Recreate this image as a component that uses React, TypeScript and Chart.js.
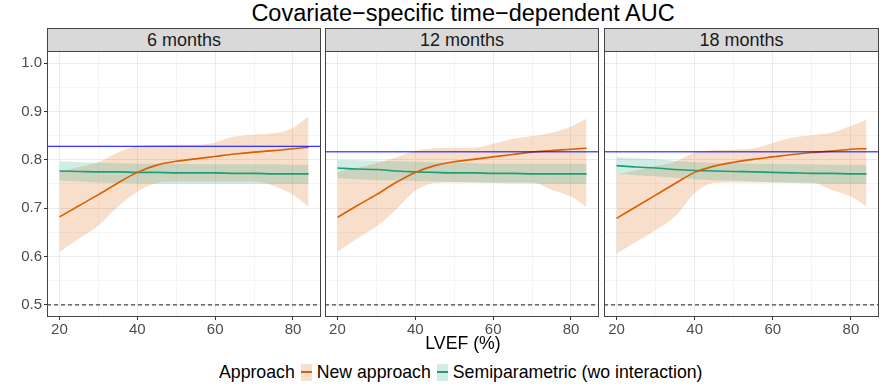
import React, { useEffect, useRef } from "react";
import { Chart, registerables } from "chart.js";
Chart.register(...registerables);

// ---------- data ----------
const TITLE = "Covariate\u2212specific time\u2212dependent AUC";
const X_TITLE = "LVEF (%)";
const LEGEND_TITLE = "Approach";
const SERIES_NAMES = ["New approach", "Semiparametric (wo interaction)"];
const PANELS = ["6 months", "12 months", "18 months"];

const LVEF = [20, 25, 30, 35, 40, 45, 50, 55, 60, 65, 70, 75, 80, 84];

// 6 months
const NEW_6 = [0.682, 0.705, 0.728, 0.752, 0.774, 0.789, 0.797, 0.802, 0.807, 0.812, 0.816, 0.819, 0.823, 0.826];
const NEW_6_LO = [0.61, 0.637, 0.664, 0.703, 0.734, 0.752, 0.755, 0.755, 0.755, 0.755, 0.755, 0.746, 0.728, 0.703];
const NEW_6_HI = [0.775, 0.785, 0.795, 0.815, 0.828, 0.83, 0.831, 0.831, 0.836, 0.848, 0.852, 0.855, 0.866, 0.89];
const SEMI_6 = [0.777, 0.776, 0.775, 0.775, 0.774, 0.774, 0.773, 0.773, 0.773, 0.772, 0.772, 0.771, 0.771, 0.771];
const SEMI_6_LO = [0.757, 0.755, 0.753, 0.752, 0.751, 0.75, 0.75, 0.75, 0.75, 0.75, 0.75, 0.75, 0.75, 0.75];
const SEMI_6_HI = [0.797, 0.795, 0.794, 0.793, 0.792, 0.792, 0.792, 0.791, 0.791, 0.791, 0.791, 0.791, 0.79, 0.79];

// 12 months
const NEW_12 = [0.681, 0.705, 0.728, 0.753, 0.774, 0.788, 0.796, 0.801, 0.806, 0.811, 0.816, 0.819, 0.822, 0.824];
const NEW_12_LO = [0.61, 0.637, 0.662, 0.697, 0.736, 0.752, 0.753, 0.753, 0.753, 0.753, 0.753, 0.738, 0.724, 0.702];
const NEW_12_HI = [0.775, 0.783, 0.793, 0.805, 0.818, 0.824, 0.825, 0.825, 0.833, 0.843, 0.849, 0.856, 0.869, 0.885];
const SEMI_12 = [0.783, 0.781, 0.78, 0.777, 0.775, 0.774, 0.773, 0.773, 0.772, 0.772, 0.771, 0.771, 0.771, 0.771];
const SEMI_12_LO = [0.762, 0.76, 0.758, 0.757, 0.756, 0.755, 0.754, 0.753, 0.752, 0.751, 0.751, 0.75, 0.75, 0.75];
const SEMI_12_HI = [0.8, 0.799, 0.798, 0.797, 0.796, 0.795, 0.794, 0.793, 0.792, 0.792, 0.792, 0.792, 0.792, 0.792];

// 18 months
const NEW_18 = [0.679, 0.703, 0.727, 0.751, 0.774, 0.787, 0.795, 0.801, 0.806, 0.811, 0.815, 0.818, 0.822, 0.823];
const NEW_18_LO = [0.606, 0.63, 0.655, 0.683, 0.731, 0.752, 0.753, 0.753, 0.753, 0.753, 0.753, 0.738, 0.724, 0.703];
const NEW_18_HI = [0.77, 0.778, 0.787, 0.796, 0.815, 0.82, 0.821, 0.824, 0.835, 0.846, 0.851, 0.856, 0.87, 0.883];
const SEMI_18 = [0.788, 0.785, 0.783, 0.78, 0.778, 0.777, 0.776, 0.775, 0.774, 0.773, 0.772, 0.772, 0.771, 0.771];
const SEMI_18_LO = [0.771, 0.768, 0.766, 0.763, 0.76, 0.758, 0.757, 0.755, 0.753, 0.752, 0.751, 0.75, 0.75, 0.75];
const SEMI_18_HI = [0.806, 0.803, 0.801, 0.798, 0.795, 0.794, 0.793, 0.792, 0.792, 0.791, 0.791, 0.79, 0.79, 0.79];

const REF_AUC = [0.828, 0.8165, 0.8165];
const NULL_AUC = 0.5;

const X_MAJOR = [20, 40, 60, 80];
const X_MINOR = [30, 50, 70];
const Y_MAJOR = [0.5, 0.6, 0.7, 0.8, 0.9, 1.0];
const Y_MINOR = [0.55, 0.65, 0.75, 0.85, 0.95];
const X_RANGE = [16.8, 87.2];
const Y_RANGE = [0.475, 1.025];

const PANEL_DATA = [
  { n: NEW_6, nlo: NEW_6_LO, nhi: NEW_6_HI, s: SEMI_6, slo: SEMI_6_LO, shi: SEMI_6_HI },
  { n: NEW_12, nlo: NEW_12_LO, nhi: NEW_12_HI, s: SEMI_12, slo: SEMI_12_LO, shi: SEMI_12_HI },
  { n: NEW_18, nlo: NEW_18_LO, nhi: NEW_18_HI, s: SEMI_18, slo: SEMI_18_LO, shi: SEMI_18_HI },
];

// ---------- style ----------
const FONT = "'Liberation Sans', Arial, Helvetica, sans-serif";
const ORANGE = "#d95f02";
const GREEN = "#1b9e77";
const ORANGE_FILL = "rgba(217,95,2,0.2)";
const GREEN_FILL = "rgba(27,158,119,0.2)";
const BORDER = "#444444";

// layout of the three panels: [left, width]
const PANEL_BOX = [
  [47, 274],
  [325, 274],
  [604, 275],
];
const PANEL_TOP = 51;
const PANEL_H = 266;
const PAD_TOP = 12;
const PAD_RIGHT = 4;
const X_AXIS_H = 30;

const borderPlugin = {
  id: "panelBorder",
  afterDraw(chart: any) {
    const { ctx, chartArea } = chart;
    ctx.save();
    ctx.strokeStyle = BORDER;
    ctx.lineWidth = 1;
    ctx.strokeRect(
      Math.round(chartArea.left) + 0.5,
      Math.round(chartArea.top) + 0.5,
      Math.round(chartArea.right - chartArea.left) - 1,
      Math.round(chartArea.bottom - chartArea.top) - 1
    );
    ctx.restore();
  },
};

function makeTicks(major: number[], minor: number[]) {
  return [
    ...major.map((v) => ({ value: v, major: true })),
    ...minor.map((v) => ({ value: v, major: false })),
  ].sort((a, b) => a.value - b.value);
}

function Panel({ idx }: { idx: number }) {
  const ref = useRef<HTMLCanvasElement>(null);
  const [left, width] = PANEL_BOX[idx];
  const yw = idx === 0 ? 47 : 4;
  const cw = yw + width + PAD_RIGHT;
  const ch = PAD_TOP + PANEL_H + X_AXIS_H;

  useEffect(() => {
    const d = PANEL_DATA[idx];
    const pts = (ys: number[]) => LVEF.map((x, i) => ({ x, y: ys[i] }));
    const hline = (v: number) => [
      { x: X_RANGE[0], y: v },
      { x: X_RANGE[1], y: v },
    ];
    const band = {
      pointRadius: 0,
      borderWidth: 0,
      cubicInterpolationMode: "monotone" as const,
    };
    const chart = new Chart(ref.current as HTMLCanvasElement, {
      type: "line",
      data: {
        datasets: [
          { ...band, label: "new_hi", data: pts(d.nhi), fill: "+1", backgroundColor: ORANGE_FILL, borderColor: "transparent", order: 6 },
          { ...band, label: "new_lo", data: pts(d.nlo), fill: false, borderColor: "transparent", order: 6 },
          { ...band, label: "semi_hi", data: pts(d.shi), fill: "+1", backgroundColor: GREEN_FILL, borderColor: "transparent", order: 5 },
          { ...band, label: "semi_lo", data: pts(d.slo), fill: false, borderColor: "transparent", order: 5 },
          { label: SERIES_NAMES[0], data: pts(d.n), borderColor: ORANGE, borderWidth: 1.6, pointRadius: 0, fill: false, cubicInterpolationMode: "monotone", order: 2 },
          { label: SERIES_NAMES[1], data: pts(d.s), borderColor: GREEN, borderWidth: 1.6, pointRadius: 0, fill: false, cubicInterpolationMode: "monotone", order: 2 },
          { label: "ref", data: hline(REF_AUC[idx]), borderColor: "#0000ff", borderWidth: 1, pointRadius: 0, fill: false, order: 1 },
          { label: "null", data: hline(NULL_AUC), borderColor: "#1a1a1a", borderWidth: 1, borderDash: [4, 3], pointRadius: 0, fill: false, order: 1 },
        ],
      },
      options: {
        animation: false,
        responsive: false,
        maintainAspectRatio: false,
        devicePixelRatio: 1,
        events: [],
        layout: { padding: { top: PAD_TOP, right: PAD_RIGHT, left: 0, bottom: 0 } },
        plugins: { legend: { display: false }, tooltip: { enabled: false } },
        scales: {
          x: {
            type: "linear",
            min: X_RANGE[0],
            max: X_RANGE[1],
            afterBuildTicks: (s: any) => {
              s.ticks = makeTicks(X_MAJOR, X_MINOR);
            },
            afterFit: (s: any) => {
              s.height = X_AXIS_H;
            },
            border: { display: false },
            grid: {
              color: "#ebebeb",
              lineWidth: (c: any) => (c.tick && c.tick.major ? 1 : 0.5),
              drawTicks: true,
              tickLength: 3,
              tickWidth: 1,
              tickColor: (c: any) => (c.tick && c.tick.major ? "#333333" : "rgba(0,0,0,0)"),
            },
            ticks: {
              autoSkip: false,
              maxRotation: 0,
              padding: 1,
              color: "#4d4d4d",
              font: { family: FONT, size: 15 },
              callback: (v: any, i: number, t: any[]) => (t[i] && t[i].major ? String(v) : ""),
            },
          },
          y: {
            type: "linear",
            min: Y_RANGE[0],
            max: Y_RANGE[1],
            afterBuildTicks: (s: any) => {
              s.ticks = makeTicks(Y_MAJOR, Y_MINOR);
            },
            afterFit: (s: any) => {
              s.width = yw;
            },
            border: { display: false },
            grid: {
              color: "#ebebeb",
              lineWidth: (c: any) => (c.tick && c.tick.major ? 1 : 0.5),
              drawTicks: idx === 0,
              tickLength: 3,
              tickWidth: 1,
              tickColor: (c: any) => (c.tick && c.tick.major ? "#333333" : "rgba(0,0,0,0)"),
            },
            ticks: {
              display: idx === 0,
              autoSkip: false,
              padding: 2,
              color: "#4d4d4d",
              font: { family: FONT, size: 15 },
              callback: (v: any, i: number, t: any[]) => (t[i] && t[i].major ? Number(v).toFixed(1) : ""),
            },
          },
        },
      },
      plugins: [borderPlugin],
    } as any);
    return () => chart.destroy();
  }, [idx]);

  return (
    <canvas
      ref={ref}
      width={cw}
      height={ch}
      style={{ position: "absolute", left: left - yw, top: PANEL_TOP - PAD_TOP, width: cw, height: ch }}
    />
  );
}

function Strip({ idx }: { idx: number }) {
  const [left, width] = PANEL_BOX[idx];
  return (
    <div
      style={{
        position: "absolute",
        left,
        top: 28,
        width,
        height: 24,
        boxSizing: "border-box",
        border: `1px solid ${BORDER}`,
        background: "#d9d9d9",
        color: "#1a1a1a",
        fontSize: 18,
        display: "flex",
        alignItems: "center",
        justifyContent: "center",
        lineHeight: 1,
      }}
    >
      {PANELS[idx]}
    </div>
  );
}

function LegendKey({ line, fill }: { line: string; fill: string }) {
  return (
    <span
      style={{
        display: "inline-block",
        position: "relative",
        width: 11,
        height: 17,
        background: fill,
        margin: "0 5px 0 6px",
      }}
    >
      <span style={{ position: "absolute", left: 0, right: 0, top: 7.5, height: 2, background: line }} />
    </span>
  );
}

export default function App() {
  const plotCenter = (PANEL_BOX[0][0] + PANEL_BOX[2][0] + PANEL_BOX[2][1]) / 2;
  return (
    <div
      style={{
        position: "absolute",
        left: 0,
        top: 0,
        width: 883,
        height: 390,
        background: "#ffffff",
        fontFamily: FONT,
        overflow: "hidden",
      }}
    >
      <div
        style={{
          position: "absolute",
          left: plotCenter - 300,
          width: 600,
          top: 0,
          height: 27,
          display: "flex",
          alignItems: "center",
          justifyContent: "center",
          fontSize: 23.5,
          color: "#000",
          whiteSpace: "nowrap",
        }}
      >
        {TITLE}
      </div>
      {[0, 1, 2].map((i) => (
        <Panel key={"p" + i} idx={i} />
      ))}
      {[0, 1, 2].map((i) => (
        <Strip key={"s" + i} idx={i} />
      ))}
      <div
        style={{
          position: "absolute",
          left: plotCenter - 100,
          width: 200,
          top: 332,
          height: 22,
          display: "flex",
          alignItems: "center",
          justifyContent: "center",
          fontSize: 17.7,
          color: "#000",
        }}
      >
        {X_TITLE}
      </div>
      <div
        style={{
          position: "absolute",
          left: 219,
          top: 362,
          height: 20,
          display: "flex",
          alignItems: "center",
          fontSize: 17.7,
          color: "#000",
          whiteSpace: "nowrap",
        }}
      >
        <span>{LEGEND_TITLE}</span>
        <LegendKey line={ORANGE} fill={ORANGE_FILL} />
        <span>{SERIES_NAMES[0]}</span>
        <LegendKey line={GREEN} fill={GREEN_FILL} />
        <span>{SERIES_NAMES[1]}</span>
      </div>
    </div>
  );
}
